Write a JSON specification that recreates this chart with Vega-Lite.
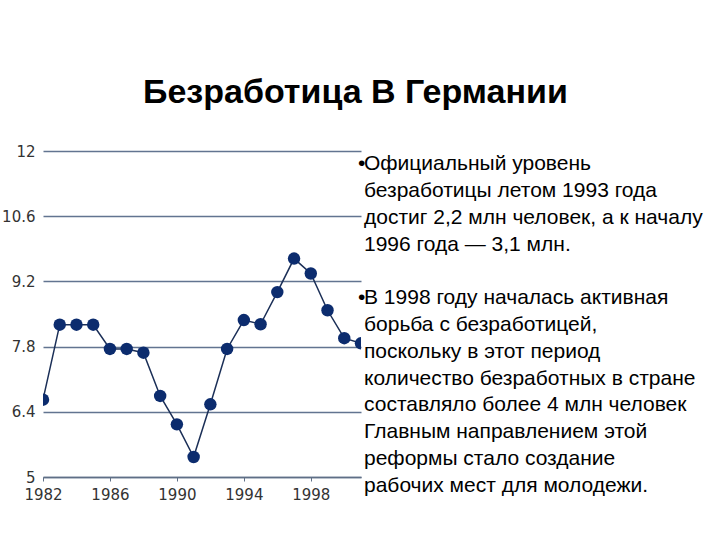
{
  "$schema": "https://vega.github.io/schema/vega-lite/v6.json",
  "padding": {"left": 0, "top": 76, "right": 0, "bottom": 0},
  "background": "white",
  "bounds": "flush",
  "spacing": 0,
  "title": {
    "text": "Безработица В Германии",
    "font": "Liberation Sans",
    "fontSize": 34,
    "fontWeight": "bold",
    "color": "#000000",
    "anchor": "start",
    "frame": "group",
    "dx": 100,
    "offset": 34
  },
  "config": {"view": {"stroke": null}},
  "hconcat": [
    {
      "width": 318,
      "height": 326,
      "data": {
        "values": [
          {"year": 1982, "value": 6.66},
          {"year": 1983, "value": 8.27},
          {"year": 1984, "value": 8.27},
          {"year": 1985, "value": 8.27},
          {"year": 1986, "value": 7.75},
          {"year": 1987, "value": 7.75},
          {"year": 1988, "value": 7.67},
          {"year": 1989, "value": 6.74},
          {"year": 1990, "value": 6.13},
          {"year": 1991, "value": 5.43},
          {"year": 1992, "value": 6.56},
          {"year": 1993, "value": 7.75},
          {"year": 1994, "value": 8.37},
          {"year": 1995, "value": 8.28},
          {"year": 1996, "value": 8.97},
          {"year": 1997, "value": 9.69},
          {"year": 1998, "value": 9.37},
          {"year": 1999, "value": 8.58},
          {"year": 2000, "value": 7.98},
          {"year": 2001, "value": 7.87}
        ]
      },
      "encoding": {
        "x": {
          "field": "year",
          "type": "quantitative",
          "scale": {"domain": [1982, 2001], "nice": false, "zero": false},
          "axis": {
            "title": null,
            "values": [1982, 1986, 1990, 1994, 1998],
            "format": "d",
            "grid": false,
            "labelFlush": false,
            "domainColor": "#5f6f86",
            "domainWidth": 1.5,
            "tickColor": "#5f6f86",
            "tickSize": 4,
            "labelFont": "DejaVu Sans",
            "labelFontSize": 15,
            "labelColor": "#333333",
            "labelPadding": 6
          }
        },
        "y": {
          "field": "value",
          "type": "quantitative",
          "scale": {"domain": [5, 12], "nice": false, "zero": false},
          "axis": {
            "title": null,
            "values": [5, 6.4, 7.8, 9.2, 10.6, 12],
            "labelExpr": "toString(datum.value)",
            "domain": false,
            "ticks": false,
            "grid": true,
            "labelFlush": false,
            "gridColor": "#627490",
            "gridWidth": 1.5,
            "gridOpacity": 1,
            "labelFont": "DejaVu Sans",
            "labelFontSize": 15,
            "labelColor": "#333333",
            "labelPadding": 8,
            "minExtent": 43,
            "maxExtent": 43
          }
        }
      },
      "layer": [
        {"mark": {"type": "line", "color": "#1b2f57", "strokeWidth": 1.5, "clip": true}},
        {"mark": {"type": "point", "filled": true, "color": "#0c2c6e", "opacity": 1, "size": 155, "clip": true}}
      ]
    },
    {
      "width": 355,
      "height": 348,
      "data": {
        "values": [
          {"line": 0, "text": "Официальный уровень", "first": true},
          {"line": 1, "text": "безработицы летом 1993 года", "first": false},
          {"line": 2, "text": "достиг 2,2 млн человек, а к началу", "first": false},
          {"line": 3, "text": "1996 года — 3,1 млн.", "first": false},
          {"line": 5, "text": "В 1998 году началась активная", "first": true},
          {"line": 6, "text": "борьба с безработицей,", "first": false},
          {"line": 7, "text": "поскольку в этот период", "first": false},
          {"line": 8, "text": "количество безработных в стране", "first": false},
          {"line": 9, "text": "составляло более 4 млн человек", "first": false},
          {"line": 10, "text": "Главным направлением этой", "first": false},
          {"line": 11, "text": "реформы стало создание", "first": false},
          {"line": 12, "text": "рабочих мест для молодежи.", "first": false}
        ]
      },
      "encoding": {
        "y": {
          "field": "line",
          "type": "quantitative",
          "scale": {"domain": [-0.5, 12.5], "reverse": true, "nice": false, "zero": false},
          "axis": null
        }
      },
      "layer": [
        {
          "mark": {"type": "text", "align": "left", "baseline": "middle", "font": "Liberation Sans", "fontSize": 21, "color": "#000000"},
          "encoding": {
            "x": {"datum": "text", "type": "nominal", "scale": {"domain": ["bullet", "text"], "range": [-6, 6]}, "axis": null},
            "text": {"field": "text"}
          }
        },
        {
          "transform": [{"filter": "datum.first"}],
          "mark": {"type": "text", "align": "left", "baseline": "middle", "font": "Liberation Sans", "fontSize": 21, "color": "#000000"},
          "encoding": {
            "x": {"datum": "bullet", "type": "nominal"},
            "text": {"value": "•"}
          }
        }
      ]
    }
  ]
}
